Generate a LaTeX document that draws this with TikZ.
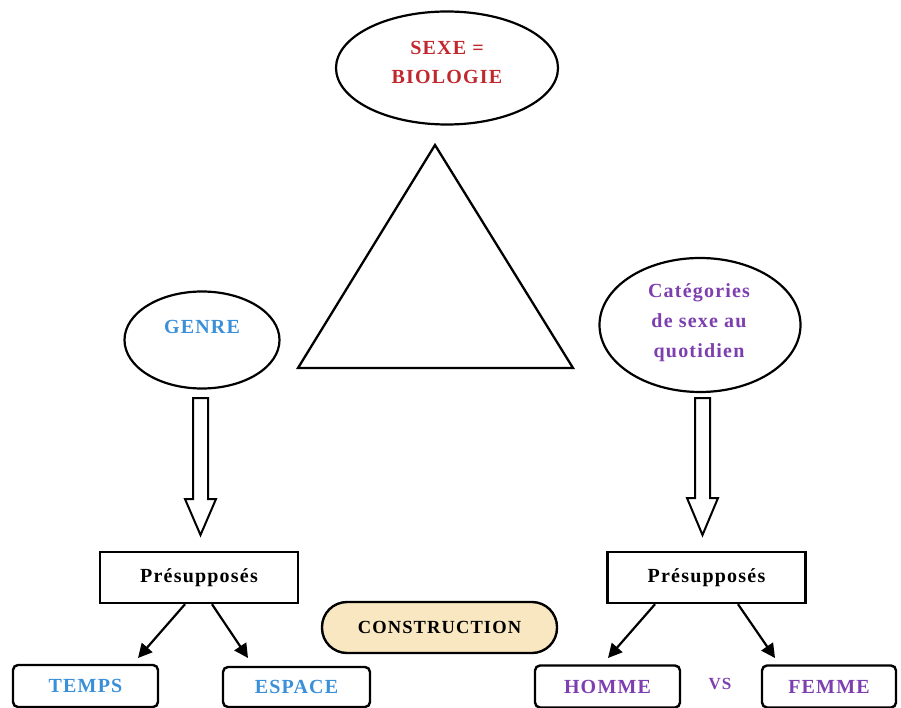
\documentclass[tikz,border=0pt]{standalone}
\usepackage{fontspec}
\setmainfont{Liberation Serif}[LetterSpace=6]
\usetikzlibrary{shapes.geometric,arrows.meta,calc}
\definecolor{cred}{HTML}{C0282D}
\definecolor{cblue}{HTML}{3A8FD9}
\definecolor{cpurple}{HTML}{7D3FB0}
\definecolor{cbeige}{HTML}{F8E7C0}
\begin{document}
\begin{tikzpicture}[x=1pt,y=-1pt,
  every node/.style={font=\fontsize{20}{29}\selectfont\bfseries},
  oval/.style={ellipse,draw,line width=2.2pt,inner sep=0pt},
  pbox/.style={rectangle,draw,line width=2.4pt,minimum width=198pt,minimum height=51pt,inner sep=0pt},
  rbox/.style={rectangle,draw,rounded corners=5pt,line width=2.4pt,minimum height=42pt,inner sep=0pt},
  link/.style={line width=2.2pt,-{Triangle[length=14pt,width=14pt]}},
  hollow/.style={line width=2pt,fill=white,line join=miter}]
\useasboundingbox (0,0) rectangle (901,708);
% top ellipse
\node[oval,minimum width=222pt,minimum height=113pt] (sexe) at (447,68) {};
\node[text=cred,align=center] (sexetxt) at (447,62) {SEXE =\\BIOLOGIE};
% triangle
\draw[line width=2.3pt,line join=miter] (435,145) -- (573,368) -- (298,368) -- cycle;
% genre
\node[oval,minimum width=155pt,minimum height=97pt] (genre) at (202,340) {};
\node[text=cblue] (genretxt) at (202,327) {GENRE};
% categories
\node[oval,minimum width=201pt,minimum height=134pt] (cat) at (700,325) {};
\node[text=cpurple,align=center,font=\fontsize{20}{30}\selectfont\bfseries] (cattxt) at (699,323) {Catégories\\de sexe au\\quotidien};
% hollow arrows
\draw[hollow] (193,398) -- (208,398) -- (208,499) -- (216,499) -- (200.5,535) -- (185,499) -- (193,499) -- cycle;
\draw[hollow] (695,398) -- (710,398) -- (710,498) -- (718,498) -- (702.5,535) -- (687,498) -- (695,498) -- cycle;
% presupposes
\node[pbox] (lp) at (199,577.5) {Présupposés};
\node[pbox] (rp) at (706.5,577.5) {Présupposés};
% construction
\node[rectangle,draw,fill=cbeige,rounded corners=25pt,line width=2.4pt,minimum width=235pt,minimum height=51pt,inner sep=0pt,font=\fontsize{18.5}{20}\selectfont\bfseries] (constr) at (439.5,627.5) {CONSTRUCTION};
% bottom boxes
\node[rbox,minimum width=145pt,text=cblue] (temps) at (85.5,686) {TEMPS};
\node[rbox,minimum width=147pt,minimum height=40pt,text=cblue] (espace) at (296.5,687) {ESPACE};
\node[rbox,minimum width=145pt,text=cpurple] (homme) at (607.5,686.5) {HOMME};
\node[rbox,minimum width=134pt,text=cpurple] (femme) at (829,686.5) {FEMME};
\node[text=cpurple,font=\fontsize{17}{18}\selectfont\bfseries] (vs) at (720,684) {VS};
% arrows
\coordinate (t1) at (138,658);
\coordinate (t2) at (248,658);
\coordinate (t3) at (608,658);
\coordinate (t4) at (775,658);
\draw[link] ($(lp.south)+(-14,0)$) -- (t1);
\draw[link] ($(lp.south)+(13,0)$) -- (t2);
\draw[link] ($(rp.south)+(-51.5,0)$) -- (t3);
\draw[link] ($(rp.south)+(31.5,0)$) -- (t4);
\end{tikzpicture}
\end{document}
